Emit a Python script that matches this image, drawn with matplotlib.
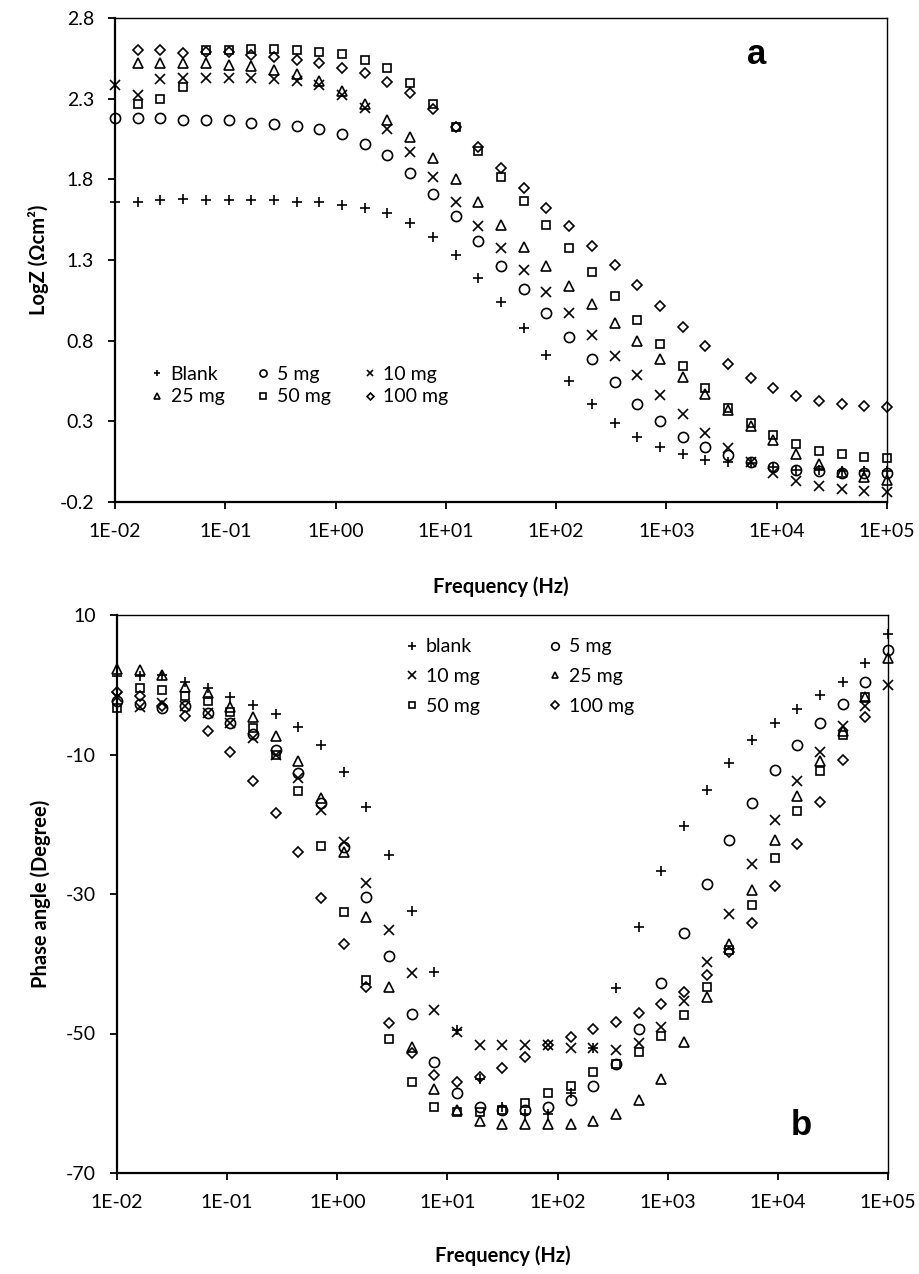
import matplotlib
matplotlib.use("Agg")
import matplotlib.pyplot as plt

plt.rcParams['font.family'] = ['Lato', 'DejaVu Sans']
plt.rcParams['axes.unicode_minus'] = False

# frequencies (Hz), 35 points from 100 kHz down to 10 mHz
freq = [0.01, 0.01607, 0.02582, 0.0415, 0.06668, 0.1071, 0.1719, 0.2761, 0.4437,
        0.7129, 1.145, 1.84, 2.955, 4.748, 7.627, 12.25, 19.68, 31.62, 50.8,
        81.61, 131.1, 210.6, 338.3, 543.5, 873.1, 1403, 2254, 3621, 5817, 9345,
        15010, 24120, 38750, 62250, 100000]

nan = float("nan")

# panel a: log |Z|
logz_blank = [1.66, 1.66, 1.67, 1.68, 1.67, 1.67, 1.67, 1.67, 1.66, 1.66, 1.64, 1.62,
              1.59, 1.53, 1.44, 1.33, 1.19, 1.04, 0.88, 0.71, 0.55, 0.41, 0.29, 0.20,
              0.14, 0.10, 0.06, 0.05, 0.04, 0.02, 0.00, 0.00, -0.01, -0.01, -0.01]
logz_5 = [2.18, 2.18, 2.18, 2.17, 2.17, 2.17, 2.15, 2.14, 2.13, 2.11, 2.08, 2.02,
          1.95, 1.84, 1.71, 1.57, 1.415, 1.26, 1.12, 0.97, 0.82, 0.685, 0.545, 0.41,
          0.30, 0.20, 0.14, 0.09, 0.05, 0.02, 0.00, -0.01, -0.02, -0.02, -0.02]
logz_10 = [2.385, 2.32, 2.42, 2.43, 2.43, 2.43, 2.43, 2.42, 2.41, 2.385, 2.32, 2.24,
           2.115, 1.97, 1.815, 1.66, 1.51, 1.375, 1.235, 1.10, 0.97, 0.835, 0.705,
           0.587, 0.463, 0.345, 0.229, 0.132, 0.049, -0.023, -0.071, -0.10, -0.122,
           -0.131, -0.137]
logz_25 = [nan, 2.52, 2.52, 2.52, 2.52, 2.51, 2.50, 2.48, 2.45, 2.41, 2.35, 2.265,
           2.17, 2.06, 1.935, 1.80, 1.66, 1.517, 1.38, 1.26, 1.14, 1.025, 0.912, 0.80,
           0.686, 0.576, 0.469, 0.37, 0.27, 0.184, 0.10, 0.035, -0.015, -0.045, -0.065]
logz_50 = [nan, 2.27, 2.30, 2.375, 2.60, 2.60, 2.61, 2.61, 2.60, 2.59, 2.575, 2.54,
           2.49, 2.395, 2.267, 2.126, 1.975, 1.813, 1.665, 1.517, 1.376, 1.227, 1.077,
           0.928, 0.779, 0.642, 0.504, 0.38, 0.287, 0.215, 0.159, 0.117, 0.097, 0.08,
           0.07]
logz_100 = [nan, 2.60, 2.60, 2.585, 2.587, 2.587, 2.57, 2.556, 2.54, 2.523, 2.49,
            2.457, 2.405, 2.333, 2.237, 2.126, 2.003, 1.873, 1.744, 1.624, 1.51, 1.388,
            1.268, 1.142, 1.016, 0.887, 0.767, 0.655, 0.566, 0.504, 0.456, 0.427,
            0.407, 0.396, 0.39]

# panel b: phase angle (degree)
ph_blank = [1.25, 1.25, 1.4, 0.44, -0.5, -1.7, -2.9, -4.2, -6.0, -8.7, -12.5, -17.5,
            -24.4, -32.4, -41.2, -49.5, -56.5, -60.5, -61.5, -61.5, -58.5, -52.1,
            -43.5, -34.7, -26.7, -20.3, -15.1, -11.2, -7.9, -5.5, -3.5, -1.5, 0.44,
            3.1, 7.3]
ph_5 = [-2.4, -2.7, -3.4, -3.1, -4.1, -5.5, -7.0, -9.3, -12.6, -17.0, -23.2, -30.4,
        -38.9, -47.2, -54.1, -58.5, -60.5, -61.0, -61.0, -60.5, -59.5, -57.5, -54.4,
        -49.4, -42.8, -35.6, -28.6, -22.3, -16.9, -12.2, -8.6, -5.5, -2.7, 0.44, 5.0]
ph_10 = [-1.7, -3.2, -2.6, -3.1, -4.1, -5.5, -7.7, -10.1, -13.4, -17.9, -22.5, -28.4,
         -35.2, -41.3, -46.6, -49.8, -51.6, -51.6, -51.6, -51.7, -52.1, -52.1, -52.4,
         -51.4, -49.1, -45.4, -39.7, -32.9, -25.7, -19.4, -13.8, -9.6, -5.9, -3.0,
         -0.04]
ph_25 = [2.2, 2.1, 1.4, -0.3, -1.2, -3.2, -4.6, -7.4, -10.9, -16.3, -24.0, -33.3,
         -43.3, -51.9, -58.0, -61.0, -62.5, -63.0, -63.0, -63.0, -63.0, -62.5, -61.5,
         -59.5, -56.5, -51.2, -44.7, -37.2, -29.4, -22.2, -16.0, -10.9, -6.6, -1.7,
         3.8]
ph_50 = [-3.4, -0.5, -0.75, -1.6, -2.4, -3.9, -6.2, -10.1, -15.3, -23.1, -32.6, -42.3,
         -50.8, -57.0, -60.5, -61.3, -61.3, -61.0, -60.0, -58.5, -57.5, -55.5, -54.4,
         -52.6, -50.4, -47.3, -43.4, -38.1, -31.6, -24.9, -18.1, -12.3, -7.2, -1.7,
         nan]
ph_100 = [-1.1, -1.6, -3.0, -4.5, -6.6, -9.6, -13.8, -18.4, -24.0, -30.6, -37.2, -43.3,
          -48.5, -52.8, -56.0, -57.0, -56.3, -55.0, -53.3, -51.7, -50.5, -49.4, -48.3,
          -47.1, -45.8, -44.0, -41.6, -38.3, -34.2, -28.9, -22.9, -16.8, -10.8, -4.6,
          nan]

xtick_vals = [1e-2, 1e-1, 1e0, 1e1, 1e2, 1e3, 1e4, 1e5]
xtick_labels = ["1E-02", "1E-01", "1E+00", "1E+01", "1E+02", "1E+03", "1E+04", "1E+05"]

MARKERS = [("+", 7.0), ("o", 7.3), ("x", 6.8), ("^", 6.5), ("s", 6.2), ("D", 5.0)]

fig = plt.figure(figsize=(9.2, 12.74), dpi=100)
ax1 = fig.add_axes([115 / 920, 1 - 502 / 1274, 772 / 920, 484 / 1274])
ax2 = fig.add_axes([117 / 920, 1 - 1173 / 1274, 771 / 920, 558 / 1274])


def draw(ax, series, labels):
    handles = []
    for ys, lab, (m, ms) in zip(series, labels, MARKERS):
        h, = ax.plot(freq, ys, linestyle="none", marker=m, markersize=ms,
                     markerfacecolor="none", markeredgecolor="black",
                     markeredgewidth=1.2, color="black", label=lab, clip_on=False)
        handles.append(h)
    ax.set_xscale("log")
    ax.set_xlim(1e-2, 1e5)
    ax.set_xticks(xtick_vals)
    ax.set_xticklabels(xtick_labels)
    ax.minorticks_off()
    ax.tick_params(direction="out", length=5, width=1.3, labelsize=14, pad=10)
    for side in ["left", "bottom"]:
        ax.spines[side].set_linewidth(1.6)
    for side in ["top", "right"]:
        ax.spines[side].set_linewidth(1.0)
    ax.set_xlabel("Frequency (Hz)", fontsize=14.5, fontweight="bold")
    return handles


# panel a
h1 = draw(ax1, [logz_blank, logz_5, logz_10, logz_25, logz_50, logz_100],
          ["Blank", "5 mg", "10 mg", "25 mg", "50 mg", "100 mg"])
ax1.set_ylim(-0.2, 2.8)
yt1 = [-0.2, 0.3, 0.8, 1.3, 1.8, 2.3, 2.8]
ax1.set_yticks(yt1)
ax1.set_yticklabels([f"{v:.1f}" for v in yt1])
ax1.set_ylabel("LogZ (Ωcm²)", fontsize=14.5, fontweight="bold")
ax1.yaxis.set_label_coords(-0.085, 0.5)
ax1.xaxis.set_label_coords(0.5, -0.153)
ax1.text(0.831, 0.924, "a", transform=ax1.transAxes, fontsize=25, fontweight="bold",
         family="Liberation Sans", ha="center", va="center")
# legend is filled row by row in the reference (3 columns)
order1 = [0, 3, 1, 4, 2, 5]
ax1.legend([h1[i] for i in order1], [h1[i].get_label() for i in order1],
           ncol=3, loc="upper left", bbox_to_anchor=(0.047, 0.282), frameon=False,
           fontsize=14, markerscale=0.7, handlelength=0.6, handletextpad=0.4,
           columnspacing=1.7, labelspacing=0.3, borderpad=0, borderaxespad=0)

# panel b
h2 = draw(ax2, [ph_blank, ph_5, ph_10, ph_25, ph_50, ph_100],
          ["blank", "5 mg", "10 mg", "25 mg", "50 mg", "100 mg"])
ax2.set_ylim(-70, 10)
yt2 = [-70, -50, -30, -10, 10]
ax2.set_yticks(yt2)
ax2.set_yticklabels([str(v) for v in yt2])
ax2.set_ylabel("Phase angle (Degree)", fontsize=14.5, fontweight="bold")
ax2.yaxis.set_label_coords(-0.085, 0.5)
ax2.xaxis.set_label_coords(0.5, -0.13)
ax2.text(0.888, 0.086, "b", transform=ax2.transAxes, fontsize=25, fontweight="bold",
         family="Liberation Sans", ha="center", va="center")
# 2 columns, row by row
order2 = [0, 2, 4, 1, 3, 5]
ax2.legend([h2[i] for i in order2], [h2[i].get_label() for i in order2],
           ncol=2, loc="upper left", bbox_to_anchor=(0.375, 0.958), frameon=False,
           fontsize=14, markerscale=0.75, handlelength=0.6, handletextpad=0.4,
           columnspacing=3.6, labelspacing=0.65, borderpad=0, borderaxespad=0)

fig.savefig("out.png", dpi=100)
